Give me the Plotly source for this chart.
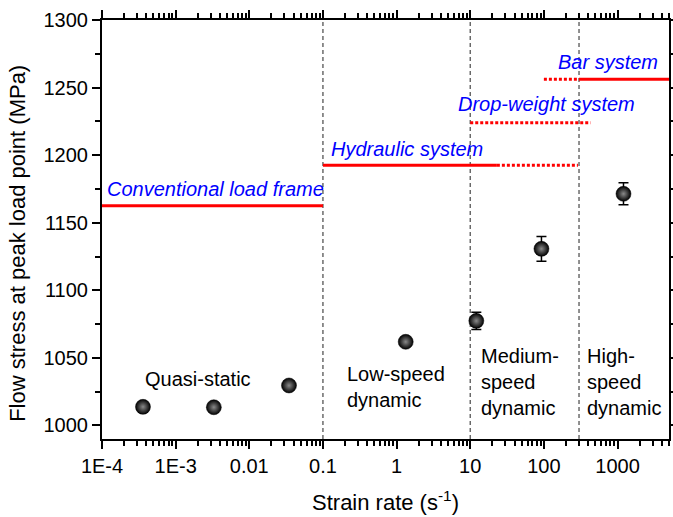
import numpy as np
import plotly.graph_objects as go

# ---------------- data ----------------
strain_rate = [3.6e-4, 3.3e-3, 0.0346, 1.33, 12.1, 92.7, 1205]
flow_stress = [1013.8, 1013.5, 1029.6, 1061.9, 1077.4, 1130.7, 1171.4]
stress_err = [1.0, 1.0, 1.5, 1.5, 6.3, 9.2, 8.1]

regime_bounds = [0.1, 10, 300]

tick_vals = [1e-4, 1e-3, 0.01, 0.1, 1, 10, 100, 1000]
tick_text = ["1E-4", "1E-3", "0.01", "0.1", "1", "10", "100", "1000"]

system_names = ["Conventional load frame", "Hydraulic system",
                "Drop-weight system", "Bar system"]
system_stress = [1162.5, 1192.6, 1224.0, 1256.2]
system_solid = [(1e-4, 0.1), (0.1, 23), None, (300, 5000)]
system_dotted = [None, (23, 290), (10, 430), (100, 300)]

regime_labels = ["Quasi-static", "Low-speed<br>dynamic",
                 "Medium-<br>speed<br>dynamic", "High-<br>speed<br>dynamic"]

X_MIN, X_MAX = 1e-4, 5000
Y_MIN, Y_MAX = 990, 1300

FONT = "Liberation Sans, Arial, sans-serif"

fig = go.Figure()

# regime boundaries (vertical dashed lines)
for b in regime_bounds:
    fig.add_trace(go.Scatter(
        x=[b, b], y=[Y_MIN, Y_MAX], mode="lines",
        line=dict(color="#555555", width=1.3, dash="4px,3px"),
        hoverinfo="skip", showlegend=False))

# loading system ranges
for lvl, solid, dotted in zip(system_stress, system_solid, system_dotted):
    if solid is not None:
        fig.add_trace(go.Scatter(
            x=list(solid), y=[lvl, lvl], mode="lines",
            line=dict(color="#ff0000", width=3),
            hoverinfo="skip", showlegend=False))
    if dotted is not None:
        fig.add_trace(go.Scatter(
            x=list(dotted), y=[lvl, lvl], mode="lines",
            line=dict(color="#ff0000", width=3, dash="3px,2px"),
            hoverinfo="skip", showlegend=False))

# data points
fig.add_trace(go.Scatter(
    x=strain_rate, y=flow_stress, mode="markers",
    error_y=dict(type="data", array=stress_err, visible=True,
                 color="black", thickness=1.5, width=5),
    marker=dict(size=15, color="black",
                gradient=dict(type="radial", color="#8a8a8a"),
                line=dict(color="black", width=0.5)),
    showlegend=False))

annotations = []
# blue system labels (x in log10 units)
sys_pos = [(-3.957, 1175.0), (-0.913, 1204.5), (0.812, 1238.0), (2.158, 1268.6)]
for name, (xp, yp) in zip(system_names, sys_pos):
    annotations.append(dict(
        x=xp, y=yp, xref="x", yref="y", text="<i>" + name + "</i>",
        showarrow=False, xanchor="left", yanchor="middle",
        font=dict(family=FONT, size=20, color="#0000ff")))

# regime labels
reg_pos = [(-2.698, 1034.5, "center"), (-0.70, 1028.3, "left"),
           (1.125, 1032.3, "left"), (2.565, 1032.3, "left")]
for lab, (xp, yp, xa) in zip(regime_labels, reg_pos):
    annotations.append(dict(
        x=xp, y=yp, xref="x", yref="y", text=lab, align="left",
        showarrow=False, xanchor=xa, yanchor="middle",
        font=dict(family=FONT, size=20, color="black")))

# y-axis title
annotations.append(dict(
    x=-0.149, y=0.467, xref="paper", yref="paper",
    text="Flow stress at peak load point (MPa)", textangle=-90,
    showarrow=False, xanchor="center", yanchor="middle",
    font=dict(family=FONT, size=22, color="black")))

minor_x = [k * 10.0 ** d for d in range(-4, 4) for k in range(2, 10)
           if k * 10.0 ** d <= X_MAX]

fig.update_layout(
    width=673, height=517,
    margin=dict(l=102, r=4, t=20, b=78, autoexpand=False),
    paper_bgcolor="white", plot_bgcolor="white",
    font=dict(family=FONT, color="black"),
    annotations=annotations,
    xaxis=dict(
        type="log", range=[np.log10(X_MIN), np.log10(X_MAX)],
        automargin=False,
        tickmode="array", tickvals=tick_vals, ticktext=tick_text,
        ticks="outside", ticklen=8, tickwidth=1.5, tickcolor="black",
        showline=True, linecolor="black", linewidth=2, mirror="ticks",
        showgrid=False, zeroline=False,
        tickfont=dict(family=FONT, size=20, color="black"),
        minor=dict(tickmode="array", tickvals=minor_x, ticks="outside",
                   ticklen=5, tickwidth=1.5, tickcolor="black", showgrid=False),
        title=dict(text="Strain rate (s<sup>-1</sup>)",
                   font=dict(family=FONT, size=22, color="black"),
                   standoff=19),
    ),
    yaxis=dict(
        range=[Y_MIN, Y_MAX], tickmode="linear", tick0=1000, dtick=50,
        automargin=False,
        ticks="outside", ticklen=8, tickwidth=1.5, tickcolor="black",
        showline=True, linecolor="black", linewidth=2, mirror="ticks",
        showgrid=False, zeroline=False,
        tickfont=dict(family=FONT, size=20, color="black"),
        minor=dict(dtick=25, tick0=1000, ticks="outside", ticklen=5,
                   tickwidth=1.5, tickcolor="black", showgrid=False),
    ),
)

fig.write_html(
    "out.html",
    config={"displayModeBar": False},
    post_script="document.body.style.margin='0';document.body.style.overflow='hidden';",
)
